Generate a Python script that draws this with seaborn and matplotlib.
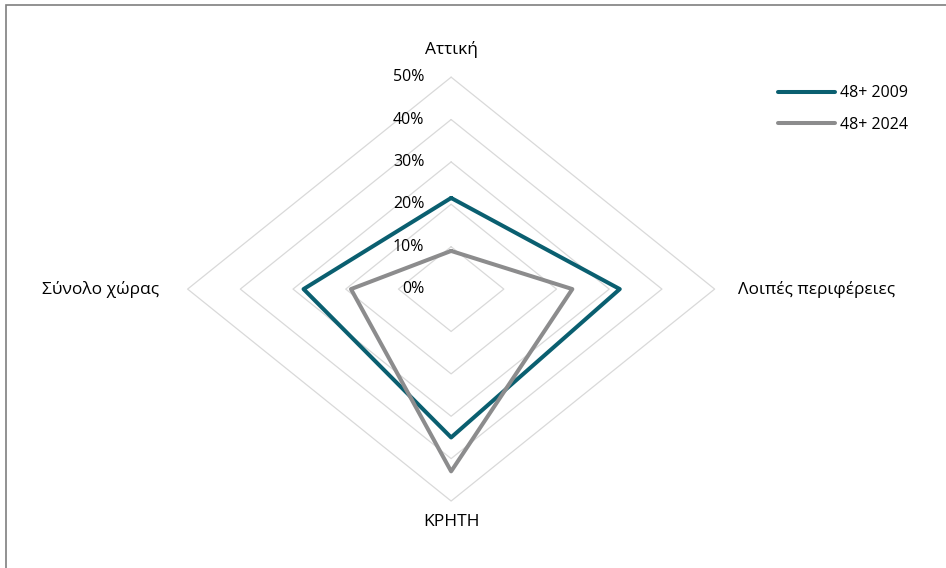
import numpy as np
import pandas as pd
import matplotlib
matplotlib.use("Agg")
import matplotlib.pyplot as plt
import seaborn as sns
from matplotlib.patches import Rectangle

categories = ["Αττική", "Λοιπές περιφέρειες", "ΚΡΗΤΗ", "Σύνολο χώρας"]
series_names = ["48+ 2009", "48+ 2024"]
vals_2009 = [21.5, 32, 35, 28]
vals_2024 = [9, 23, 43, 19]
ticks = [0, 10, 20, 30, 40, 50]
tick_labels = ["0%", "10%", "20%", "30%", "40%", "50%"]
colors = ["#0a5f70", "#8c8c8d"]

sns.set_style("white")
plt.rcParams["font.family"] = ["Open Sans", "DejaVu Sans"]
plt.rcParams["text.color"] = "black"

fig = plt.figure(figsize=(9.46, 5.68), dpi=100)
ax = fig.add_axes([0, 0, 1, 1])
ax.set_xlim(-85.6, 93.9)
ax.set_ylim(-65.8, 68.2)
ax.axis("off")

n = len(categories)
theta = np.arange(n) * 2 * np.pi / n

# grid diamonds
for r in ticks[1:]:
    gx = np.append(r * np.sin(theta), 0)
    gy = np.append(r * np.cos(theta), r)
    ax.plot(gx, gy, color="#d9d9d9", lw=0.9, zorder=1)

# tick labels along the top spoke
for t, lab in zip(ticks, tick_labels):
    ax.text(-5.1, t, lab, ha="right", va="center", fontsize=11.5, color="black")

# series
rows = []
for name, vals in zip(series_names, [vals_2009, vals_2024]):
    v = list(vals) + [vals[0]]
    th = list(theta) + [theta[0]]
    for i, (r, a) in enumerate(zip(v, th)):
        rows.append({"series": name, "order": i, "x": r * np.sin(a), "y": r * np.cos(a)})
df = pd.DataFrame(rows)
sns.lineplot(data=df, x="x", y="y", hue="series", palette=colors, sort=False,
             estimator=None, lw=2.9, ax=ax, zorder=3)

# category labels
ax.text(0, 56.5, categories[0], ha="center", va="center", fontsize=12.5)
ax.text(54.5, 0, categories[1], ha="left", va="center", fontsize=12.5)
ax.text(0, -55, categories[2], ha="center", va="center", fontsize=12.5)
ax.text(-55.5, 0, categories[3], ha="right", va="center", fontsize=12.5)

leg = ax.legend(loc="upper left", bbox_to_anchor=(0.807, 0.875), frameon=False,
                fontsize=11.5, handlelength=3.6, handletextpad=0.3, labelspacing=0.95)
for line in leg.get_lines():
    line.set_linewidth(2.9)
    line.set_solid_capstyle("round")

fig.patches.append(Rectangle((0.006, -0.01), 1.2, 1.001, transform=fig.transFigure,
                             fill=False, edgecolor="#7f7f7f", lw=1.2))

fig.savefig("out.png", dpi=100)
